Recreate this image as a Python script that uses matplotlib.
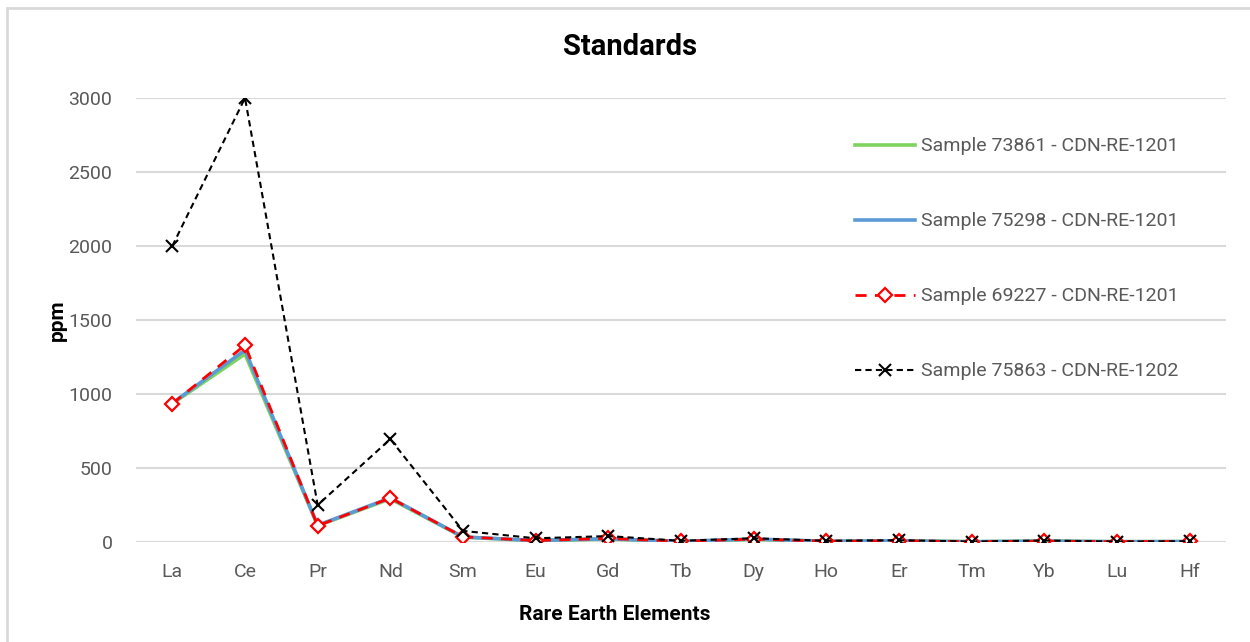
import matplotlib.pyplot as plt
from matplotlib.patches import Rectangle

# Rare earth element results for the standard samples (ppm)
elements = ["La", "Ce", "Pr", "Nd", "Sm", "Eu", "Gd", "Tb", "Dy", "Ho",
            "Er", "Tm", "Yb", "Lu", "Hf"]

s73861 = [935, 1270, 110, 292, 33, 9, 20, 4, 18, 4, 8, 2, 6, 2, 3]
s75298 = [938, 1297, 113, 298, 34, 10, 22, 4, 20, 5, 8, 2, 6, 2, 3]
s69227 = [935, 1330, 110, 297, 35, 10, 24, 5, 20, 5, 8, 2, 6, 2, 4]
s75863 = [2000, 3000, 250, 695, 75, 25, 40, 8, 25, 8, 12, 3, 10, 3, 5]

labels = ["Sample 73861 - CDN-RE-1201", "Sample 75298 - CDN-RE-1201",
          "Sample 69227 - CDN-RE-1201", "Sample 75863 - CDN-RE-1202"]

plt.rcParams["font.family"] = ["Roboto", "DejaVu Sans"]
grey = "#595959"

fig = plt.figure(figsize=(12.5, 6.42), dpi=100)
fig.patches.append(Rectangle((7 / 1250, -0.1), 1.2, 1 - 8 / 642 + 0.1,
                             transform=fig.transFigure, fill=False,
                             edgecolor="#d9d9d9", linewidth=2))

ax = fig.add_axes([136 / 1250, 1 - 542 / 642, 1090 / 1250, 444 / 642])
x = list(range(len(elements)))

ax.plot(x, s73861, color="#7fd35f", linewidth=2.6, label=labels[0], zorder=3)
ax.plot(x, s75298, color="#5b9bd5", linewidth=2.6, label=labels[1], zorder=4)
ax.plot(x, s69227, color="#ff0000", linewidth=2, linestyle=(0, (4, 3)),
        marker="D", markersize=7, markerfacecolor="white",
        markeredgecolor="#ff0000", markeredgewidth=1.6, label=labels[2], zorder=5)
ax.plot(x, s75863, color="black", linewidth=1.5, linestyle=(0, (3, 2)),
        marker="x", markersize=9, markeredgewidth=1.5, label=labels[3], zorder=6)

ax.set_xlim(-0.5, len(elements) - 0.5)
ax.set_ylim(0, 3000)
ax.set_yticks(range(0, 3001, 500))
ax.set_xticks(x)
ax.set_xticklabels(elements)
ax.grid(axis="y", color="#d9d9d9", linewidth=1.5)
ax.set_axisbelow(True)
for side in ["top", "right", "left", "bottom"]:
    ax.spines[side].set_visible(False)
ax.tick_params(length=0, labelsize=14, labelcolor=grey)
ax.tick_params(axis="x", pad=15)
ax.tick_params(axis="y", pad=17)

# axis titles placed in figure pixels
fig.text(615 / 1250, 1 - 614 / 642, "Rare Earth Elements", ha="center",
         va="center", fontsize=15, fontweight="bold")
fig.text(57 / 1250, 1 - 320 / 642, "ppm", ha="center", va="center",
         rotation=90, fontsize=15, fontweight="bold")
fig.text(630 / 1250, 1 - 47 / 642, "Standards", ha="center", va="center",
         fontsize=21, fontweight="bold")

leg = fig.legend(loc="upper left", bbox_to_anchor=(837 / 1250, 1 - 120 / 642),
                 frameon=False, fontsize=14, labelcolor=grey,
                 labelspacing=2.93, handlelength=3.1, handletextpad=0.3)

fig.savefig("out.png", dpi=100)
